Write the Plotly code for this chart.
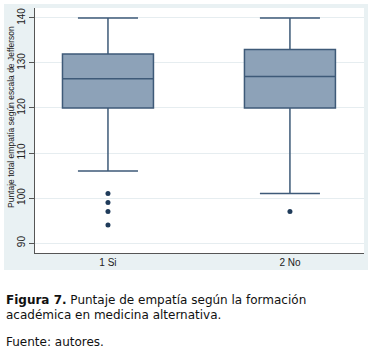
import plotly.graph_objects as go

categories = ["1 Si", "2 No"]
positions = [1, 2]
q1 = [120, 120]
median = [126.5, 127]
q3 = [132, 133]
lower_whisker = [106, 101]
upper_whisker = [140, 140]
outliers_si = [101, 99, 97, 94]
outliers_no = [97]
y_ticks = [90, 100, 110, 120, 130, 140]

box_fill = "#8DA2B8"
box_line = "#3E5A78"
dot_col = "#1F3B5A"

fig = go.Figure()
fig.add_trace(go.Box(
    x=positions, q1=q1, median=median, q3=q3,
    lowerfence=lower_whisker, upperfence=upper_whisker,
    fillcolor=box_fill, line=dict(color=box_line, width=1.5),
    width=0.5, whiskerwidth=0.66, boxpoints=False, showlegend=False,
    hoverinfo="skip"))
fig.add_trace(go.Scatter(
    x=[positions[0]] * len(outliers_si), y=outliers_si, mode="markers",
    marker=dict(color=dot_col, size=5), showlegend=False))
fig.add_trace(go.Scatter(
    x=[positions[1]] * len(outliers_no), y=outliers_no, mode="markers",
    marker=dict(color=dot_col, size=5), showlegend=False))

W, H = 372, 358
ml, mr, mt, mb = 35, 8, 8, 105
pw, ph = W - ml - mr, H - mt - mb

def px_x(p):
    return (p - ml) / pw

def px_y(p):
    return 1 - (p - mt) / ph

fig.add_shape(type="rect", xref="paper", yref="paper",
              x0=px_x(4), x1=px_x(368), y0=px_y(270), y1=px_y(4),
              fillcolor="#E9F1F3", line=dict(width=0), layer="below")
fig.add_shape(type="rect", xref="paper", yref="paper",
              x0=0, x1=1, y0=0, y1=1,
              fillcolor="white", line=dict(width=0), layer="below")

cap_font = dict(family="DejaVu Sans", size=12, color="#111")
fig.update_layout(
    width=W, height=H,
    margin=dict(l=ml, r=mr, t=mt, b=mb, autoexpand=False),
    paper_bgcolor="white", plot_bgcolor="white",
    font=dict(family="Liberation Sans, Arial, sans-serif", color="#222"),
    xaxis=dict(range=[0.599, 2.407], tickvals=positions, ticktext=categories,
               showgrid=False, zeroline=False, showline=True,
               linecolor="#555", linewidth=1, ticks="", tickfont=dict(size=10),
               automargin=False),
    yaxis=dict(range=[87.8, 142.2], tickvals=y_ticks, tickangle=-90,
               showgrid=True, gridcolor="#E6EDF0", zeroline=False,
               showline=True, linecolor="#555", linewidth=1,
               ticks="outside", ticklen=5, tickcolor="#555",
               tickfont=dict(size=10), automargin=False),
    annotations=[
        dict(xref="paper", yref="paper", x=px_x(11), y=px_y(117),
             xanchor="center", yanchor="middle", showarrow=False, textangle=-90,
             text="Puntaje total empatía según escala de Jefferson",
             font=dict(size=8.5, color="#222")),
        dict(xref="paper", yref="paper", x=px_x(4), y=px_y(300),
             xanchor="left", yanchor="middle", showarrow=False,
             text="<b>Figura 7.</b> Puntaje de empatía según la formación",
             font=cap_font),
        dict(xref="paper", yref="paper", x=px_x(4), y=px_y(315),
             xanchor="left", yanchor="middle", showarrow=False,
             text="académica en medicina alternativa.", font=cap_font),
        dict(xref="paper", yref="paper", x=px_x(4), y=px_y(342),
             xanchor="left", yanchor="middle", showarrow=False,
             text="Fuente: autores.", font=cap_font),
    ],
)

fig.write_html("out.html", config={"displayModeBar": False},
               post_script="document.body.style.margin='0';document.body.style.overflow='hidden';")
